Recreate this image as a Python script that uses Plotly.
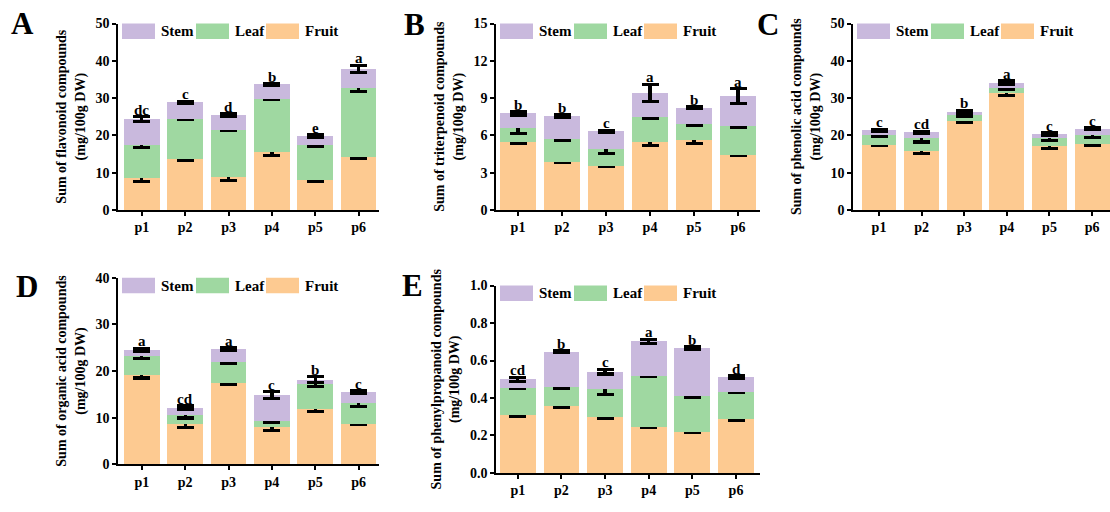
import plotly.graph_objects as go

# ---------------- data ----------------
categories = ["p1", "p2", "p3", "p4", "p5", "p6"]
parts = ["Stem", "Leaf", "Fruit"]

# A: flavonoid
flav_fruit = [8.5, 13.7, 8.8, 15.6, 7.9, 14.3]
flav_leaf = [8.9, 10.8, 12.7, 14.2, 9.5, 18.3]
flav_stem = [6.9, 4.4, 3.9, 3.9, 2.4, 5.2]
flav_fruit_err = [0.8, 0.5, 1.0, 1.0, 0.2, 0.5]
flav_leaf_err = [0.65, 0.2, 0.3, 0.2, 0.25, 0.85]
flav_stem_err = [0.65, 0.2, 0.4, 0.2, 0.3, 0.95]
flav_letters = ["dc", "c", "d", "b", "e", "a"]

# B: triterpenoid
trit_fruit = [5.5, 3.85, 3.54, 5.5, 5.6, 4.4]
trit_leaf = [1.1, 1.88, 1.36, 1.95, 1.28, 2.32]
trit_stem = [1.16, 1.82, 1.43, 1.95, 1.35, 2.42]
trit_fruit_err = [0.15, 0.05, 0.08, 0.3, 0.25, 0.05]
trit_leaf_err = [0.45, 0.1, 0.35, 0.08, 0.1, 0.05]
trit_stem_err = [0.13, 0.12, 0.08, 0.7, 0.05, 0.6]
trit_letters = ["b", "b", "c", "a", "b", "a"]

# C: phenolic acid
phen_fruit = [17.5, 15.7, 23.9, 31.25, 17.2, 17.7]
phen_leaf = [2.5, 3.5, 1.5, 1.55, 2.0, 2.5]
phen_stem = [1.35, 1.6, 0.9, 1.3, 1.2, 1.6]
phen_fruit_err = [0.3, 0.6, 0.3, 0.5, 0.7, 0.3]
phen_leaf_err = [0.4, 1.0, 0.4, 0.5, 0.5, 0.8]
phen_stem_err = [0.3, 0.3, 0.4, 0.5, 0.3, 0.3]
phen_letters = ["c", "cd", "b", "a", "c", "c"]

# D: organic acid
orga_fruit = [19.2, 8.7, 17.4, 8.07, 11.9, 8.56]
orga_leaf = [4.1, 1.8, 4.5, 1.18, 5.35, 4.64]
orga_stem = [1.26, 1.6, 2.8, 5.55, 0.9, 2.2]
orga_fruit_err = [0.7, 0.8, 0.3, 0.9, 0.6, 0.1]
orga_leaf_err = [0.7, 0.6, 0.3, 0.3, 0.5, 0.9]
orga_stem_err = [0.3, 0.4, 0.3, 0.75, 0.6, 0.3]
orga_letters = ["a", "cd", "a", "c", "b", "c"]

# E: phenylpropanoid
phpr_fruit = [0.307, 0.355, 0.298, 0.245, 0.22, 0.286]
phpr_leaf = [0.148, 0.104, 0.15, 0.275, 0.19, 0.148]
phpr_stem = [0.045, 0.189, 0.093, 0.182, 0.257, 0.079]
phpr_fruit_err = [0.005, 0.003, 0.005, 0.002, 0.006, 0.005]
phpr_leaf_err = [0.005, 0.007, 0.03, 0.005, 0.006, 0.004]
phpr_stem_err = [0.01, 0.005, 0.013, 0.012, 0.005, 0.006]
phpr_letters = ["cd", "b", "c", "a", "b", "d"]

# axis settings
y_titles = [
    "Sum of flavonoid compounds<br>(mg/100g DW)",
    "Sum of triterpenoid compounds<br>(mg/100g DW)",
    "Sum of phenolic acid compounds<br>(mg/100g DW)",
    "Sum of organic acid compounds<br>(mg/100g DW)",
    "Sum of phenylpropanoid compounds<br>(mg/100g DW)",
]
y_ranges = [[0, 50], [0, 15], [0, 50], [0, 40], [0, 1.0]]
y_dticks = [10, 3, 10, 10, 0.2]
y_formats = ["d", "d", "d", "d", ".1f"]
panel_labels = ["A", "B", "C", "D", "E"]

# ---------------- style / layout ----------------
W, H = 1110, 512
FONT = "Liberation Serif"
colors = {"Stem": "#c9b9dd", "Leaf": "#9fd8a1", "Fruit": "#fdca91"}
# pixel boxes: (left, right, top, bottom)
boxes = [(118, 379, 17, 209), (496, 760, 17, 209), (853, 1110, 17, 209),
         (118, 379, 279, 471), (496, 760, 287, 480)]
x_ranges = [[-0.55, 5.47], [-0.5, 5.5], [-0.61, 5.42], [-0.55, 5.47], [-0.5, 5.55]]
label_pos = [(22, 17), (414, 18), (768, 18), (27, 288), (412, 287)]
title_standoff = [7, 7, 7, 7, 7]

panels = [
    (flav_fruit, flav_leaf, flav_stem, flav_fruit_err, flav_leaf_err, flav_stem_err, flav_letters),
    (trit_fruit, trit_leaf, trit_stem, trit_fruit_err, trit_leaf_err, trit_stem_err, trit_letters),
    (phen_fruit, phen_leaf, phen_stem, phen_fruit_err, phen_leaf_err, phen_stem_err, phen_letters),
    (orga_fruit, orga_leaf, orga_stem, orga_fruit_err, orga_leaf_err, orga_stem_err, orga_letters),
    (phpr_fruit, phpr_leaf, phpr_stem, phpr_fruit_err, phpr_leaf_err, phpr_stem_err, phpr_letters),
]

fig = go.Figure()
annotations = []
shapes = []
layout_axes = {}

for i, (fr, lf, st, fre, lfe, ste, letters) in enumerate(panels):
    n = "" if i == 0 else str(i + 1)
    xa, ya = "x" + n, "y" + n
    for name, vals, errs in (("Fruit", fr, fre), ("Leaf", lf, lfe), ("Stem", st, ste)):
        fig.add_trace(go.Bar(
            x=categories, y=vals, name=name, xaxis=xa, yaxis=ya,
            marker=dict(color=colors[name], line=dict(width=0)),
            error_y=dict(type="data", array=errs, visible=True, color="black",
                         thickness=3.2, width=8.5),
            showlegend=False,
        ))
    l, r, t, b = boxes[i]
    layout_axes["xaxis" + n] = dict(
        domain=[l / W, min(r / W, 1.0)], anchor=ya, range=x_ranges[i],
        showline=True, linecolor="black", linewidth=1.5,
        ticks="outside", ticklen=4, tickwidth=1.5, tickcolor="black",
        tickfont=dict(family=FONT, size=14, color="black", weight="bold"),
        showgrid=False, zeroline=False, fixedrange=True,
    )
    layout_axes["yaxis" + n] = dict(
        domain=[1 - b / H, 1 - t / H], anchor=xa, range=y_ranges[i],
        dtick=y_dticks[i], tickformat=y_formats[i],
        showline=True, linecolor="black", linewidth=1.5,
        ticks="outside", ticklen=4, tickwidth=1.5, tickcolor="black",
        tickfont=dict(family=FONT, size=14, color="black", weight="bold"),
        showgrid=False, zeroline=False, fixedrange=True,
        title=dict(text=y_titles[i], standoff=title_standoff[i],
                   font=dict(family=FONT, size=14, color="black", weight="bold")),
    )
    # significance letters above each stack
    for j, c in enumerate(categories):
        top = fr[j] + lf[j] + st[j] + ste[j]
        annotations.append(dict(
            x=c, y=top, xref=xa, yref=ya, text=letters[j], showarrow=False,
            yanchor="bottom", yshift=-3,
            font=dict(family=FONT, size=15, color="black", weight="bold"),
        ))
    # in-plot legend (large swatches like the original)
    pw, ph = r - l, b - t
    sw_x = [(4, 37), (78, 111), (148, 181)]
    for (x0, x1), name in zip(sw_x, parts):
        shapes.append(dict(type="rect", xref=xa + " domain", yref=ya + " domain",
                           x0=x0 / pw, x1=x1 / pw, y0=1 - 16 / ph, y1=1.0,
                           fillcolor=colors[name], line=dict(width=0), layer="above"))
        annotations.append(dict(x=(x1 + 4) / pw, y=1 - 8 / ph,
                                xref=xa + " domain", yref=ya + " domain",
                                text=name, showarrow=False, xanchor="left", yanchor="middle",
                                font=dict(family=FONT, size=15, color="black", weight="bold")))
    # panel letter
    px, py = label_pos[i]
    annotations.append(dict(x=px / W, y=1 - py / H, xref="paper", yref="paper",
                            text=panel_labels[i], showarrow=False,
                            xanchor="center", yanchor="middle",
                            font=dict(family=FONT, size=31, color="black", weight="bold")))

fig.update_layout(
    width=W, height=H, margin=dict(l=0, r=0, t=0, b=0),
    paper_bgcolor="white", plot_bgcolor="white",
    barmode="stack", bargap=0.18, showlegend=False,
    annotations=annotations, shapes=shapes,
    **layout_axes,
)
fig.write_html(
    "out.html",
    config={"displayModeBar": False},
    post_script="document.body.style.margin='0';document.body.style.overflow='hidden';",
)
